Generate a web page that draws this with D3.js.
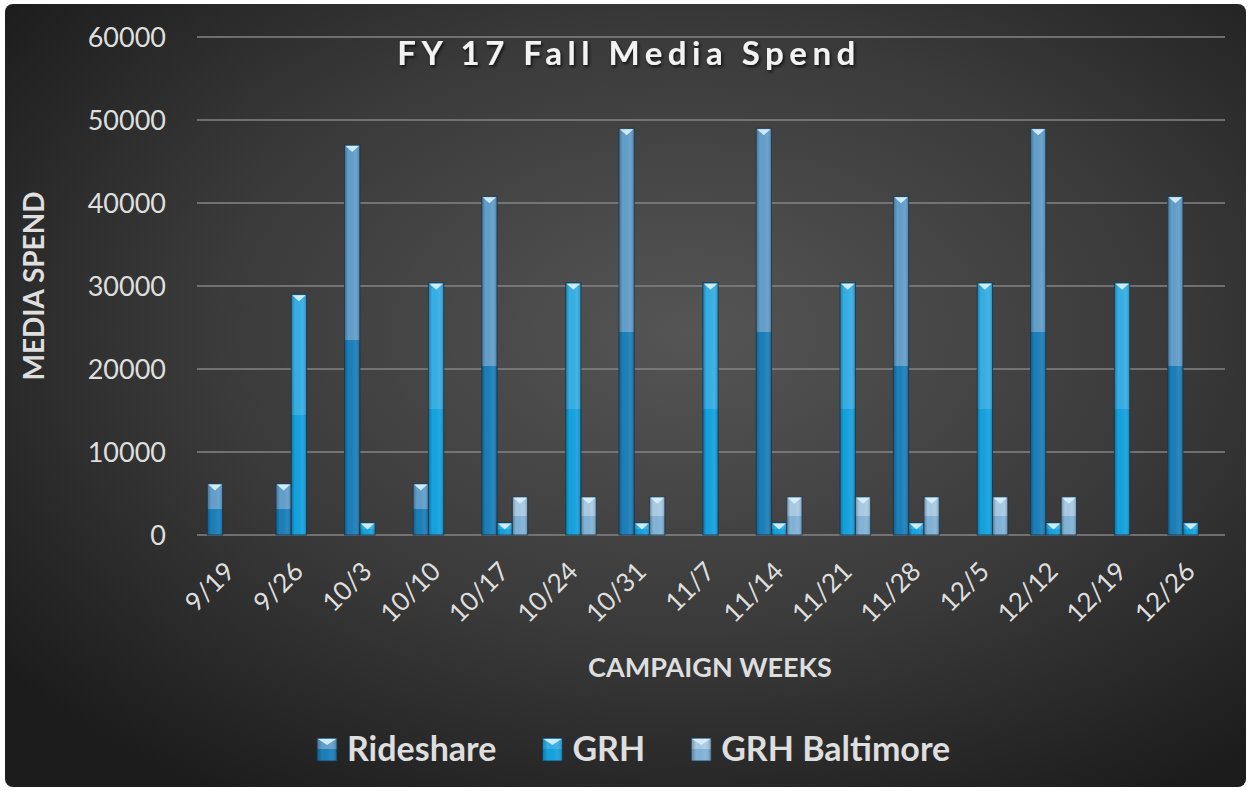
<!DOCTYPE html>
<html>
<head>
<meta charset="utf-8">
<script src="https://cdn.jsdelivr.net/npm/d3@7"></script>
<style>
  body { margin: 0; background: #ffffff; }
  text { font-family: Lato, "Open Sans", sans-serif; }
</style>
</head>
<body>
<div id="chart"></div>
<script>
// Weeks of the campaign (x categories)
const weeks = ["9/19", "9/26", "10/3", "10/10", "10/17", "10/24", "10/31", "11/7",
  "11/14", "11/21", "11/28", "12/5", "12/12", "12/19", "12/26"];

const seriesNames = ["Rideshare", "GRH", "GRH Baltimore"];

// Values
const rideshare = [6200, 6200, 47000, 6200, 40800, 0, 49000, 0, 49000, 0, 40800, 0, 49000, 0, 40800];
const grh = [0, 29000, 1500, 30400, 1500, 30400, 1500, 30400, 1500, 30400, 1500, 30400, 1500, 30400, 1500];
const grhBaltimore = [0, 0, 0, 0, 4600, 4600, 4600, 0, 4600, 4600, 4600, 4600, 4600, 0, 0];

const yTicks = [0, 10000, 20000, 30000, 40000, 50000, 60000];

const seriesValues = [rideshare, grh, grhBaltimore];

// colours for each series: upper half, lower half
const palette = [
  { top: "#629fcb", bottom: "#1b7fba" },
  { top: "#35afe5", bottom: "#14a2e0" },
  { top: "#a9cbe4", bottom: "#82b3d7" }
];

const width = 1251, height = 791;

const svg = d3.select("#chart")
  .append("svg")
  .attr("width", width)
  .attr("height", height);

const defs = svg.append("defs");

// dark radial background
const bg = defs.append("radialGradient")
  .attr("id", "bg")
  .attr("cx", "55%").attr("cy", "42%").attr("r", "70%");
bg.append("stop").attr("offset", "0%").attr("stop-color", "#555555");
bg.append("stop").attr("offset", "55%").attr("stop-color", "#3a3a3a");
bg.append("stop").attr("offset", "100%").attr("stop-color", "#1c1c1c");

// bar fills with a hard split at half height
palette.forEach((p, i) => {
  const g = defs.append("linearGradient")
    .attr("id", "bar" + i)
    .attr("x1", 0).attr("y1", 0).attr("x2", 0).attr("y2", 1);
  g.append("stop").attr("offset", "0%").attr("stop-color", p.top);
  g.append("stop").attr("offset", "50%").attr("stop-color", p.top);
  g.append("stop").attr("offset", "50%").attr("stop-color", p.bottom);
  g.append("stop").attr("offset", "100%").attr("stop-color", p.bottom);
});

// side shading for the bevel look
const bevel = defs.append("linearGradient")
  .attr("id", "bevel")
  .attr("x1", 0).attr("y1", 0).attr("x2", 1).attr("y2", 0);
bevel.append("stop").attr("offset", "0%").attr("stop-color", "#000").attr("stop-opacity", 0.28);
bevel.append("stop").attr("offset", "25%").attr("stop-color", "#000").attr("stop-opacity", 0);
bevel.append("stop").attr("offset", "70%").attr("stop-color", "#fff").attr("stop-opacity", 0.06);
bevel.append("stop").attr("offset", "100%").attr("stop-color", "#000").attr("stop-opacity", 0.22);

const shadow = defs.append("filter").attr("id", "shadow")
  .attr("x", "-10%").attr("y", "-30%").attr("width", "120%").attr("height", "160%");
shadow.append("feDropShadow")
  .attr("dx", 1.5).attr("dy", 2).attr("stdDeviation", 1.5)
  .attr("flood-color", "#000").attr("flood-opacity", 0.7);

svg.append("rect")
  .attr("x", 5).attr("y", 4)
  .attr("width", width - 10).attr("height", height - 8)
  .attr("rx", 8)
  .attr("fill", "url(#bg)");

// scales
const x0 = d3.scaleBand().domain(weeks).range([196, 1225]);
const x1 = d3.scaleBand().domain(seriesNames)
  .range([0, x0.bandwidth()])
  .paddingOuter(0.74);
const y = d3.scaleLinear().domain([0, 60000]).range([535, 37]);

// gridlines + y labels
svg.append("g")
  .selectAll("line")
  .data(yTicks)
  .join("line")
  .attr("x1", 197).attr("x2", 1225)
  .attr("y1", d => y(d)).attr("y2", d => y(d))
  .attr("stroke", "#858585")
  .attr("stroke-width", 1.6);

svg.append("g")
  .selectAll("text")
  .data(yTicks)
  .join("text")
  .attr("x", 166)
  .attr("y", d => y(d))
  .attr("dy", "0.36em")
  .attr("text-anchor", "end")
  .attr("fill", "#dedede")
  .attr("font-size", 27)
  .text(d => d);

// bars
function drawBar(sel, bx, by, bw, bh, i) {
  sel.append("rect")
    .attr("x", bx).attr("y", by).attr("width", bw).attr("height", bh)
    .attr("fill", `url(#bar${i})`);
  sel.append("rect")
    .attr("x", bx).attr("y", by).attr("width", bw).attr("height", bh)
    .attr("fill", "url(#bevel)")
    .attr("stroke", "#1c3546")
    .attr("stroke-opacity", 0.85)
    .attr("stroke-width", 1);
  const th = Math.min(7, bh);
  sel.append("path")
    .attr("d", `M${bx + 1},${by + 1}L${bx + bw - 1},${by + 1}L${bx + bw / 2},${by + th}Z`)
    .attr("fill", "#d8f1fb")
    .attr("fill-opacity", 0.92);
}

const groups = svg.append("g")
  .selectAll("g")
  .data(weeks)
  .join("g")
  .attr("transform", d => `translate(${x0(d)},0)`);

groups.each(function(week, wi) {
  const g = d3.select(this);
  seriesNames.forEach((s, si) => {
    const v = seriesValues[si][wi];
    if (!v) return;
    drawBar(g.append("g"), x1(s), y(v), x1.bandwidth(), y(0) - y(v), si);
  });
});

// x labels
svg.append("g")
  .selectAll("text")
  .data(weeks)
  .join("text")
  .attr("transform", d => `translate(${x0(d) + x0.bandwidth() / 2 + 6},573) rotate(-45)`)
  .attr("text-anchor", "end")
  .attr("fill", "#dedede")
  .attr("font-size", 26)
  .text(d => d);

// title
const title = svg.append("text")
  .attr("x", 629).attr("y", 65)
  .attr("text-anchor", "middle")
  .attr("fill", "#f2f2f2")
  .attr("font-size", 33)
  .attr("font-weight", "bold")
  .attr("filter", "url(#shadow)")
  .text("FY 17 Fall Media Spend");
const tLen = title.node().getComputedTextLength();
const tChars = "FY 17 Fall Media Spend".length;
title.attr("letter-spacing", Math.max(0, (458 - tLen) / (tChars - 1)) + "px");

// axis titles
svg.append("text")
  .attr("transform", "translate(44,286) rotate(-90)")
  .attr("text-anchor", "middle")
  .attr("fill", "#dedede")
  .attr("font-size", 28)
  .attr("font-weight", "bold")
  .text("MEDIA SPEND");

svg.append("text")
  .attr("x", 710).attr("y", 677)
  .attr("text-anchor", "middle")
  .attr("fill", "#dedede")
  .attr("font-size", 27)
  .attr("font-weight", "bold")
  .text("CAMPAIGN WEEKS");

// legend
const legend = svg.append("g");
let lx = 317;
seriesNames.forEach((s, i) => {
  const item = legend.append("g");
  drawBar(item, lx, 738, 20, 23, i);
  const t = item.append("text")
    .attr("x", lx + 30).attr("y", 761)
    .attr("fill", "#dedede")
    .attr("font-size", 34)
    .attr("font-weight", "bold")
    .text(s);
  lx += 30 + t.node().getComputedTextLength() + 46;
});
</script>
</body>
</html>
